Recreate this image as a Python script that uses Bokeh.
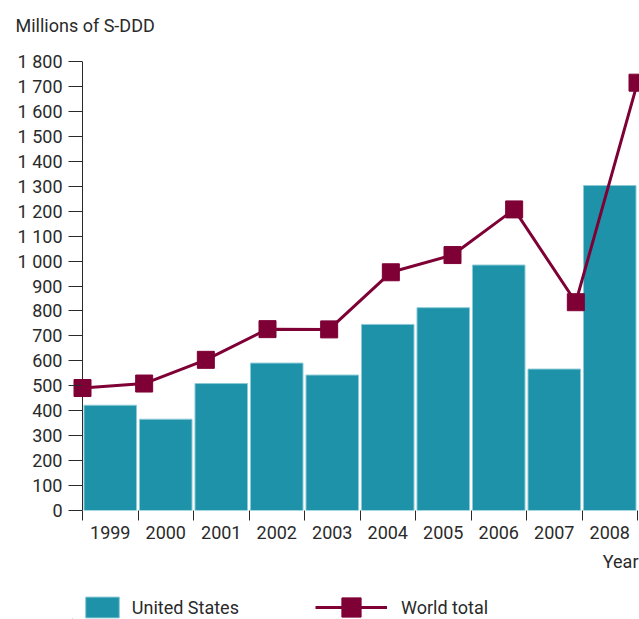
from bokeh.plotting import figure
from bokeh.layouts import column
from bokeh.models import FixedTicker, Span, Label, Legend, LegendItem, Range1d
from bokeh.embed import file_html
from bokeh.resources import INLINE

# ---- data ----
years = ["1999", "2000", "2001", "2002", "2003", "2004", "2005", "2006", "2007", "2008"]
us_values = [422, 366, 509, 591, 543, 746, 813, 984, 567, 1303]
world_values = [491, 509, 604, 727, 726, 955, 1024, 1207, 835, 1715]
y_ticks = list(range(0, 1900, 100))
y_tick_labels = {t: (f"{t // 1000} {t % 1000:03d}" if t >= 1000 else str(t)) for t in y_ticks}
y_title = "Millions of S-DDD"
x_title = "Year"
series_names = ["United States", "World total"]

# ---- style ----
FONT = "Roboto"
TEXT = "#2a2a2a"
TEAL = "#1D92A8"
TEAL_EDGE = "#8BCAD6"
CRIMSON = "#7E0035"
FS = "18px"

W = 639
LEFT = 72
HEAD_H = 40
n = len(years)
PX = 55.5                     # pixels per category
x_start = -10 / PX
x_end = n + 2 / PX
y_max = 1800


def blank(height, x0, min_left, **kw):
    fig = figure(width=W, height=height, output_backend="svg", toolbar_location=None,
                 x_range=Range1d(x0, W), y_range=Range1d(0, height),
                 x_axis_location=None, y_axis_location=None,
                 min_border_left=min_left, min_border_right=0,
                 min_border_top=0, min_border_bottom=0, **kw)
    fig.title = None
    fig.outline_line_color = None
    fig.xgrid.visible = False
    fig.ygrid.visible = False
    return fig


# ---- header with the unit title (data units = pixels) ----
h = blank(HEAD_H, 0, 0, frame_align=False)
h.add_layout(Label(x=15, y=HEAD_H - 24.5, text=y_title, text_font=FONT, text_font_size=FS,
                   text_color=TEXT, text_align="left", text_baseline="middle"))

# ---- main chart ----
p = figure(width=W, height=550 - HEAD_H, output_backend="svg", toolbar_location=None,
           x_range=Range1d(x_start, x_end), y_range=Range1d(0, y_max),
           min_border_left=LEFT, min_border_right=0, min_border_top=61 - HEAD_H,
           min_border_bottom=40)
p.title = None
p.outline_line_color = None
p.xgrid.visible = False
p.ygrid.visible = False

centers = [i + 0.5 for i in range(n)]
line_x = [i * n / (n - 1) for i in range(n)]

bars = p.vbar(x=centers, top=us_values, bottom=0, width=0.946,
              fill_color=TEAL, line_color=TEAL_EDGE, line_width=1)
line = p.line(x=line_x, y=world_values, line_color=CRIMSON, line_width=3)
marks = p.scatter(x=line_x, y=world_values, marker="square", size=17,
                  fill_color=CRIMSON, line_color=CRIMSON)

# y axis
yax = p.yaxis[0]
yax.ticker = FixedTicker(ticks=y_ticks)
yax.major_label_overrides = {t: s for t, s in y_tick_labels.items()}
yax.axis_line_color = None
yax.major_tick_out = 4
yax.major_tick_in = 10
yax.major_tick_line_color = TEXT
yax.minor_tick_line_color = None
yax.major_label_standoff = 6
yax.major_label_text_font = FONT
yax.major_label_text_font_size = FS
yax.major_label_text_color = TEXT

axis_line = Span(location=0, dimension="height", line_color=TEXT, line_width=1, level="underlay")
p.add_layout(axis_line)

# x axis
xax = p.xaxis[0]
xax.ticker = FixedTicker(ticks=centers, minor_ticks=list(range(n + 1)))
xax.major_label_overrides = {c: y for c, y in zip(centers, years)}
xax.axis_line_color = None
xax.major_tick_out = 0
xax.major_tick_in = 0
xax.minor_tick_out = 10
xax.minor_tick_in = 0
xax.minor_tick_line_color = TEXT
xax.major_label_standoff = 5
xax.major_label_text_font = FONT
xax.major_label_text_font_size = FS
xax.major_label_text_color = TEXT

# ---- footer with "Year" and legend (data units = pixels) ----
foot_h = 69
f = blank(foot_h, LEFT, LEFT)

f.add_layout(Label(x=638, y=foot_h - 11, text=x_title, text_font=FONT, text_font_size=FS,
                   text_color=TEXT, text_align="right", text_baseline="middle"))

# legend key renderers (placed off-view; only their legend swatches are seen)
key_bar = f.vbar(x=[-1000], top=[1], width=1, fill_color=TEAL, line_color=TEAL_EDGE, line_width=1)
key_line = f.line(x=[-1000, -999], y=[1, 1], line_color=CRIMSON, line_width=3)
key_mark = f.scatter(x=[-1000], y=[1], marker="square", fill_color=CRIMSON, line_color=CRIMSON)

common = dict(orientation="horizontal", padding=0, margin=0, border_line_color=None,
              background_fill_alpha=0, label_text_font=FONT, label_text_font_size=FS,
              label_text_color=TEXT)
leg1 = Legend(items=[LegendItem(label=series_names[0], renderers=[key_bar])],
              location=(8.8, -1), glyph_width=42, glyph_height=26,
              label_standoff=9, **common)
leg2 = Legend(items=[LegendItem(label=series_names[1], renderers=[key_line, key_mark])],
              location=(243, -12), glyph_width=72, glyph_height=48,
              label_standoff=14, **common)
f.add_layout(leg1)
f.add_layout(leg2)

layout = column(h, p, f, spacing=0)
open("out.html", "w").write(file_html(layout, INLINE))
